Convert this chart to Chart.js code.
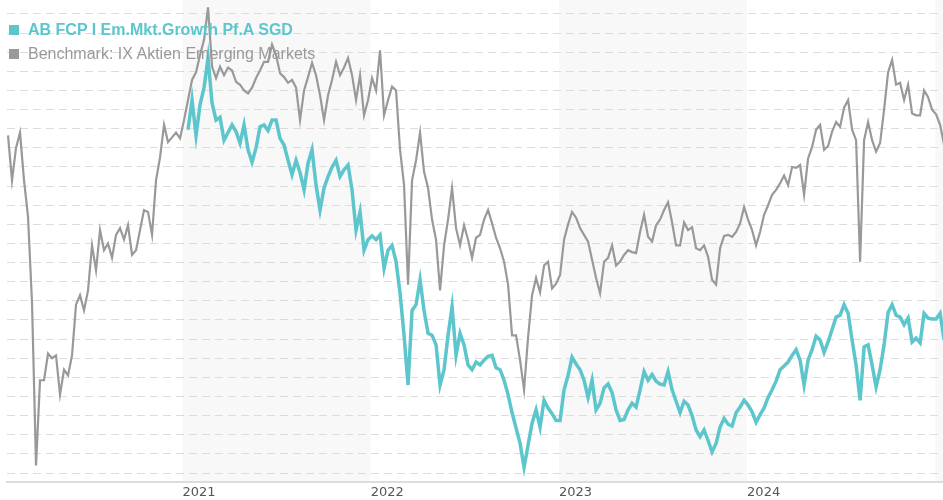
<!DOCTYPE html>
<html>
<head>
<meta charset="utf-8">
<script src="https://cdn.jsdelivr.net/npm/chart.js@4.4.1/dist/chart.umd.min.js"></script>
<style>
    html, body { margin: 0; padding: 0; background: #ffffff; }
    #wrap { position: relative; width: 943px; height: 500px; }
    #legend {
        position: absolute; left: 9px; top: 18px;
        font-family: 'Liberation Sans', Arial, sans-serif; font-size: 16px; line-height: 24px;
        pointer-events: none;
    }
    #legend .row { display: flex; align-items: center; white-space: nowrap; }
    #legend .box { width: 10px; height: 10px; margin-right: 9px; }
</style>
</head>
<body>
<div id="wrap">
    <canvas id="chart" width="943" height="500"></canvas>
    <div id="legend"></div>
</div>
<script>
// Dates as decimal years, one point roughly every 7.8 days
const firstDate = 2020.0727;
const dateStep = 0.021257;

// Benchmark: IX Aktien Emerging Markets (indexed)
const benchmarkValues = [
    99.3, 94.6, 98.0, 99.6, 94.6, 90.8, 81.8, 64.8, 73.7, 73.7,
    76.5, 76.0, 76.3, 72.2, 74.8, 74.2, 76.3, 81.6, 82.6, 81.0,
    83.1, 87.8, 85.2, 89.4, 87.3, 88.0, 86.5, 88.9, 89.6, 88.4,
    89.9, 86.8, 87.3, 89.4, 91.5, 91.3, 88.9, 94.6, 97.0, 100.4,
    98.6, 99.1, 99.6, 99.0, 100.9, 103.0, 105.1, 105.9, 107.7, 109.3,
    112.7, 106.5, 105.3, 106.5, 105.6, 106.4, 106.1, 104.9, 104.6, 104.0,
    103.7, 104.3, 105.3, 106.1, 107.0, 107.0, 108.8, 107.7, 105.8, 105.4,
    104.8, 105.1, 104.3, 100.9, 104.0, 105.4, 106.9, 105.6, 103.5, 100.9,
    103.5, 105.1, 107.0, 105.6, 106.4, 107.4, 105.6, 103.0, 105.6, 101.4,
    103.0, 105.3, 104.0, 108.2, 101.4, 103.0, 104.4, 104.0, 97.8, 94.1,
    83.7, 94.6, 96.7, 99.6, 95.5, 93.8, 90.5, 88.4, 83.1, 87.8,
    90.5, 93.8, 89.6, 87.8, 89.9, 88.4, 86.5, 88.6, 88.9, 90.5,
    91.5, 90.1, 88.6, 87.5, 86.1, 83.7, 78.4, 78.4, 75.8, 72.7,
    78.2, 82.6, 84.4, 82.9, 85.7, 86.1, 83.3, 83.8, 84.7, 88.4,
    90.0, 91.3, 90.7, 89.6, 88.9, 88.2, 86.3, 84.4, 82.8, 86.1,
    86.5, 87.8, 85.7, 86.1, 86.8, 87.3, 87.1, 87.0, 89.2, 91.0,
    88.7, 88.2, 89.9, 90.5, 91.5, 92.3, 90.2, 87.8, 87.8, 90.2,
    89.4, 89.7, 87.5, 87.3, 87.8, 86.6, 84.2, 83.7, 87.5, 88.8,
    88.9, 88.7, 89.2, 90.1, 91.8, 90.5, 89.4, 87.8, 89.2, 91.0,
    92.0, 93.1, 93.6, 94.3, 95.1, 94.1, 96.0, 95.9, 96.2, 93.1,
    96.9, 98.1, 99.9, 100.4, 97.8, 98.2, 99.7, 100.7, 100.2, 102.2,
    103.0, 99.9, 98.8, 86.1, 98.8, 100.7, 98.8, 97.6, 98.5, 102.0,
    105.9, 107.2, 104.6, 104.8, 103.0, 104.6, 101.6, 101.4, 101.4, 104.0,
    103.3, 102.0, 101.5, 100.4, 98.3
];

// AB FCP I Em.Mkt.Growth Pf.A SGD (indexed, starts later)
const fundStartIndex = 45;
const fundValues = [
    99.9, 103.0, 99.3, 102.5, 104.3, 107.4, 102.7, 100.9, 101.2, 98.8,
    99.6, 100.4, 99.7, 98.5, 100.4, 97.8, 96.5, 98.0, 100.2, 100.4,
    99.8, 100.9, 100.9, 99.0, 98.3, 96.7, 95.2, 96.7, 95.4, 93.6,
    96.4, 97.8, 94.1, 91.5, 93.8, 95.0, 96.0, 96.7, 95.0, 95.7,
    96.2, 93.6, 89.4, 91.3, 87.3, 88.4, 88.8, 88.4, 88.9, 85.4,
    87.3, 87.8, 86.1, 82.8, 78.4, 73.2, 81.0, 81.6, 84.2, 81.0,
    78.6, 78.4, 77.4, 73.2, 74.8, 78.4, 81.4, 76.3, 78.6, 77.4,
    75.3, 74.8, 75.6, 75.3, 75.8, 76.2, 76.3, 75.0, 74.8, 73.7,
    72.2, 70.3, 68.7, 67.1, 64.6, 66.9, 69.2, 70.6, 68.8, 71.6,
    70.8, 70.2, 69.5, 69.5, 72.7, 74.2, 76.1, 75.4, 74.8, 73.7,
    71.9, 73.7, 70.6, 71.3, 72.9, 73.3, 72.4, 70.6, 69.5, 69.6,
    70.6, 71.3, 70.9, 72.7, 74.6, 73.7, 74.3, 73.6, 73.3, 73.2,
    74.6, 72.7, 71.5, 70.3, 71.5, 71.1, 70.0, 68.5, 67.8, 68.5,
    67.4, 66.2, 67.1, 68.8, 69.7, 69.1, 68.9, 70.3, 70.9, 71.6,
    71.1, 70.4, 69.3, 70.1, 70.8, 71.9, 72.7, 73.6, 74.8, 75.2,
    75.6, 76.3, 76.9, 75.8, 73.2, 75.8, 76.9, 78.3, 77.9, 76.6,
    77.7, 79.0, 80.3, 80.5, 81.6, 80.7, 77.9, 75.3, 71.6, 77.2,
    77.4, 75.3, 73.0, 74.8, 77.4, 80.8, 81.6, 80.5, 80.3, 79.5,
    80.2, 77.7, 78.1, 77.6, 80.7, 80.2, 80.1, 80.1, 80.7, 77.9
];

const yearTicks = [2021, 2022, 2023, 2024];
const shadedYears = [2021, 2023, 2025];

const seriesNames = ['AB FCP I Em.Mkt.Growth Pf.A SGD', 'Benchmark: IX Aktien Emerging Markets'];
const seriesColors = ['#5cc6cc', '#999999'];

const dates = benchmarkValues.map((_, i) => firstDate + i * dateStep);
const toPoints = (values, offset) => values.map((v, i) => ({ x: dates[i + offset], y: v }));

// Light grey band behind every other year
const yearBands = {
    id: 'yearBands',
    beforeDraw(chart) {
        const { ctx, chartArea, scales } = chart;
        ctx.save();
        ctx.fillStyle = '#f8f8f8';
        shadedYears.forEach(year => {
            const x0 = Math.max(scales.x.getPixelForValue(year), chartArea.left);
            const x1 = Math.min(scales.x.getPixelForValue(year + 1), chartArea.right);
            if (x1 > x0) ctx.fillRect(x0, chartArea.top, x1 - x0, chartArea.bottom - chartArea.top);
        });
        ctx.restore();
    }
};

new Chart(document.getElementById('chart'), {
    type: 'line',
    data: {
        datasets: [
            {
                label: seriesNames[1],
                data: toPoints(benchmarkValues, 0),
                borderColor: seriesColors[1],
                borderWidth: 2.2,
                pointRadius: 0,
                tension: 0
            },
            {
                label: seriesNames[0],
                data: toPoints(fundValues, fundStartIndex),
                borderColor: seriesColors[0],
                borderWidth: 3.5,
                pointRadius: 0,
                tension: 0
            }
        ]
    },
    options: {
        responsive: false,
        animation: false,
        devicePixelRatio: 1,
        layout: { padding: 0 },
        plugins: {
            legend: { display: false },
            tooltip: { enabled: false }
        },
        scales: {
            x: {
                type: 'linear',
                min: 2020.0673,
                max: 2025.041,
                afterBuildTicks: scale => { scale.ticks = yearTicks.map(v => ({ value: v })); },
                afterFit: scale => { scale.height = 18; },
                grid: { display: false, drawTicks: false },
                border: { display: true, color: '#dddddd', width: 2 },
                ticks: {
                    align: 'start',
                    padding: 3,
                    color: '#555555',
                    font: { family: 'DejaVu Sans', size: 13 },
                    callback: v => String(v)
                }
            },
            y: {
                min: 63.06,
                max: 113.46,
                afterFit: scale => { scale.width = 7; },
                border: { display: false, dash: [8, 5] },
                grid: { color: '#dcdcdc', drawTicks: false },
                ticks: { display: false, stepSize: 2, includeBounds: false }
            }
        }
    },
    plugins: [yearBands]
});

// Legend drawn as text over the plot, fund first
const legend = document.getElementById('legend');
seriesNames.forEach((name, i) => {
    const row = document.createElement('div');
    row.className = 'row';
    row.style.color = seriesColors[i];
    row.style.fontWeight = i === 0 ? 'bold' : 'normal';
    row.innerHTML = '<span class="box" style="background:' + seriesColors[i] + '"></span><span>' + name + '</span>';
    legend.appendChild(row);
});
</script>
</body>
</html>
